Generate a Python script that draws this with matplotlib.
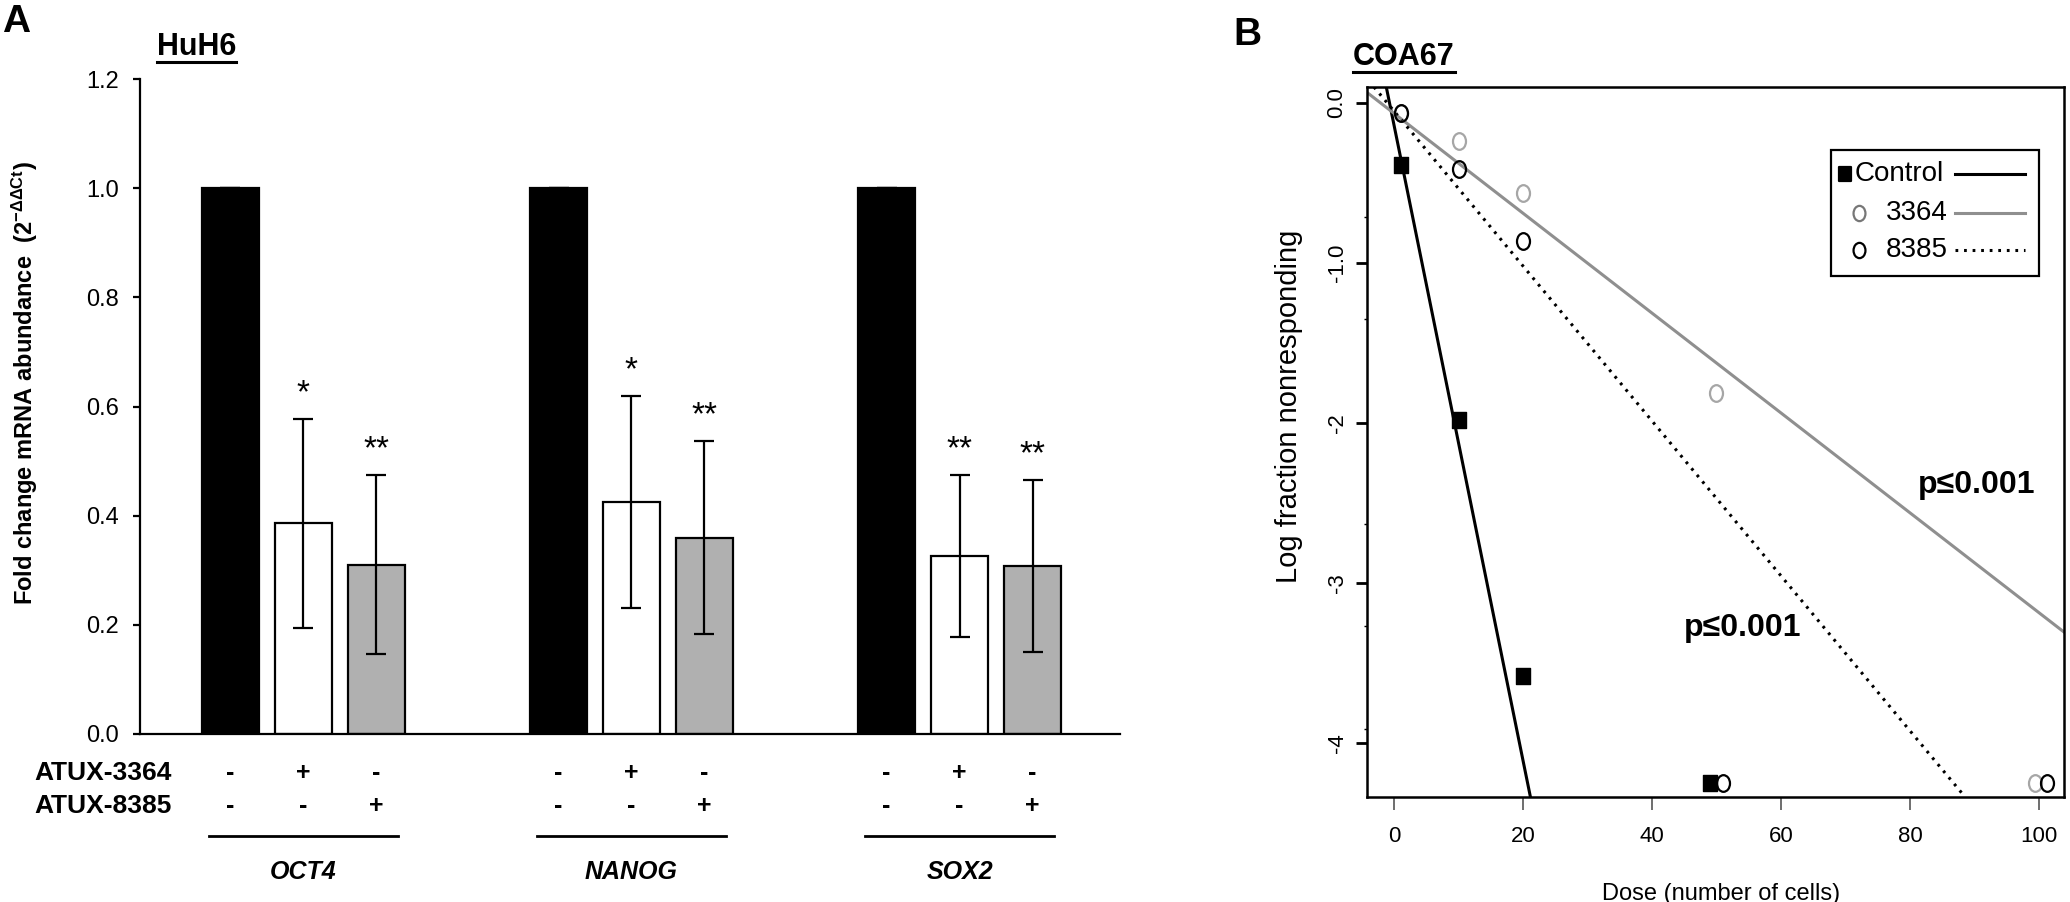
import matplotlib
matplotlib.use("Agg")
import matplotlib.pyplot as plt
import numpy as np
from matplotlib.path import Path
from matplotlib.lines import Line2D
from matplotlib.patches import Rectangle

plt.rcParams['font.family'] = ['Liberation Sans', 'DejaVu Sans']
plt.rcParams['mathtext.fontset'] = 'custom'
plt.rcParams['mathtext.rm'] = 'Liberation Sans'
plt.rcParams['mathtext.it'] = 'Liberation Sans:italic'
plt.rcParams['mathtext.bf'] = 'Liberation Sans:bold'

# ---- panel A: qPCR fold change (HuH6) ----
genes = ["OCT4", "NANOG", "SOX2"]
fold_change = [[1.0, 0.386, 0.310],
               [1.0, 0.425, 0.360],
               [1.0, 0.326, 0.308]]
fold_sd = [[0.0, 0.192, 0.164],
           [0.0, 0.194, 0.177],
           [0.0, 0.148, 0.157]]
stars = [["", "*", "**"],
         ["", "*", "**"],
         ["", "**", "**"]]
atux_3364 = ["-", "+", "-"]
atux_8385 = ["-", "-", "+"]
bar_colors = ["black", "white", "#b0b0b0"]

# ---- panel B: limiting dilution (COA67) ----
ctrl_dose = [1, 10, 20, 49]
ctrl_logfrac = [-0.39, -1.98, -3.58, -4.25]
a3364_dose = [1, 10, 20, 50, 99.4]
a3364_logfrac = [-0.06, -0.24, -0.56, -1.81, -4.25]
a8385_dose = [1, 10, 20, 51, 101.2]
a8385_logfrac = [-0.06, -0.41, -0.86, -4.25, -4.25]
fit_names = ["Control", "3364", "8385"]
fit_intercept = [-0.14, -0.065, -0.051]
fit_slope = [-0.1985, -0.0312, -0.0484]
pvals = ["p≤0.001", "p≤0.001"]
pval_xy = [(90.4, -2.39), (54, -3.28)]

W, H = 2070, 902
fig = plt.figure(figsize=(W / 100, H / 100), dpi=100)

# ================= panel A =================
axA = fig.add_axes([140 / W, 1 - 734 / H, 980 / W, 655 / H])
group_x = [0, 4.5, 9]
bw = 0.78
for g, gx in enumerate(group_x):
    xs = [gx + i for i in range(3)]
    axA.bar(xs, fold_change[g], width=bw, color=bar_colors,
            edgecolor="black", linewidth=1.6, zorder=2)
    axA.errorbar(xs, fold_change[g], yerr=fold_sd[g], fmt="none",
                 ecolor="black", elinewidth=1.6, capsize=7, capthick=1.6, zorder=3)
    for i in range(3):
        if stars[g][i]:
            axA.annotate(stars[g][i], (xs[i], fold_change[g][i] + fold_sd[g][i]),
                         xytext=(0, 12), textcoords="offset points",
                         ha="center", va="baseline", fontsize=24)
        axA.text(xs[i], -0.0595, atux_3364[i], transform=axA.get_xaxis_transform(),
                 ha="center", va="center", fontsize=18, fontweight="bold")
        axA.text(xs[i], -0.11, atux_8385[i], transform=axA.get_xaxis_transform(),
                 ha="center", va="center", fontsize=18, fontweight="bold")
    axA.plot([gx + 1 - 1.3, gx + 1 + 1.3], [-0.156, -0.156], color="black", lw=2,
             transform=axA.get_xaxis_transform(), clip_on=False)
    axA.text(gx + 1, -0.21, genes[g], transform=axA.get_xaxis_transform(),
             ha="center", va="center", fontsize=18, fontweight="bold", style="italic")

axA.text(-0.8, -0.0595, "ATUX-3364", transform=axA.get_xaxis_transform(),
         ha="right", va="center", fontsize=19, fontweight="bold")
axA.text(-0.8, -0.11, "ATUX-8385", transform=axA.get_xaxis_transform(),
         ha="right", va="center", fontsize=19, fontweight="bold")

axA.set_xlim(-1.24, 12.2)
axA.set_ylim(0, 1.2)
axA.set_yticks(np.arange(0, 1.21, 0.2))
axA.set_yticklabels([f"{v:.1f}" for v in np.arange(0, 1.21, 0.2)])
axA.set_xticks([])
for s in ["top", "right"]:
    axA.spines[s].set_visible(False)
for s in ["left", "bottom"]:
    axA.spines[s].set_linewidth(1.6)
axA.tick_params(axis="y", direction="out", length=5, width=1.6, pad=10, labelsize=17)
axA.set_ylabel(r"Fold change mRNA abundance  (2$^{\mathregular{-ΔΔCt}}$)",
               fontsize=17, fontweight="bold")
axA.yaxis.set_label_coords(-0.102, 0.535)

# ================= panel B =================
axB = fig.add_axes([1367 / W, 1 - 797 / H, 697 / W, 710 / H])

circ = Path.unit_circle()
ellipse = Path(circ.vertices * np.array([0.78, 1.0]), circ.codes)
rect = Path([(-0.43, -0.5), (0.43, -0.5), (0.43, 0.5), (-0.43, 0.5), (-0.43, -0.5)],
            [Path.MOVETO, Path.LINETO, Path.LINETO, Path.LINETO, Path.CLOSEPOLY])

line_styles = [dict(color="black", lw=2.2, ls="-"),
               dict(color="#8f8f8f", lw=2.2, ls="-"),
               dict(color="black", lw=2.2, ls=(0, (0.9, 1.9)))]
for b, m, st in zip(fit_intercept, fit_slope, line_styles):
    axB.axline((0, b), slope=m, zorder=2, **st)

axB.plot(a3364_dose, a3364_logfrac, ls="none", marker=ellipse, markersize=12,
         mfc="none", mec="#a6a6a6", mew=1.6, zorder=3)
axB.plot(a8385_dose, a8385_logfrac, ls="none", marker=ellipse, markersize=12,
         mfc="none", mec="black", mew=1.6, zorder=4)
axB.plot(ctrl_dose, ctrl_logfrac, ls="none", marker=rect, markersize=11,
         mfc="black", mec="black", zorder=5)

for txt, (px, py) in zip(pvals, pval_xy):
    axB.text(px, py, txt, ha="center", va="center", fontsize=23, fontweight="bold")

axB.set_xlim(-4.2, 103.9)
axB.set_ylim(-4.3375, 0.1)
axB.set_xticks(np.arange(0, 101, 20))
axB.set_yticks([0, -1, -2, -3, -4])
axB.set_yticklabels(["0.0", "-1.0", "-2", "-3", "-4"], rotation=90, va="center")
axB.set_yticks([-0.71, -1.35, -2.63, -3.27, -3.91], minor=True)
axB.tick_params(axis="x", direction="out", length=9, width=1.2, color="#555555",
                pad=12, labelsize=16)
axB.tick_params(axis="y", which="major", direction="out", length=8, width=2,
                pad=6, labelsize=16)
axB.tick_params(axis="y", which="minor", direction="out", length=2, width=1)
for s in axB.spines.values():
    s.set_linewidth(1.8)
axB.set_xlabel("Dose (number of cells)", fontsize=17)
axB.xaxis.set_label_coords(0.508, -0.121)
axB.set_ylabel("Log fraction nonresponding", fontsize=21)
axB.yaxis.set_label_coords(-0.092, 0.55)

# legend (marker, name, line sample)
lx0, lx1, ly0, ly1 = 0.666, 0.964, 0.734, 0.911
axB.add_patch(Rectangle((lx0, ly0), lx1 - lx0, ly1 - ly0, transform=axB.transAxes,
                        fill=False, edgecolor="black", lw=1.6, zorder=6))
leg_y = [0.877, 0.823, 0.77]
leg_marker = [rect, ellipse, ellipse]
leg_mfc = ["black", "none", "none"]
leg_mec = ["black", "#777777", "black"]
leg_text_x = [0.700, 0.744, 0.744]
leg_mark_x = [0.686, 0.706, 0.706]
for i in range(3):
    axB.plot([leg_mark_x[i]], [leg_y[i]], transform=axB.transAxes, ls="none",
             marker=leg_marker[i], markersize=10 if i == 0 else 11,
             mfc=leg_mfc[i], mec=leg_mec[i], mew=1.6, zorder=7)
    axB.text(leg_text_x[i], leg_y[i], fit_names[i], transform=axB.transAxes,
             ha="left", va="center", fontsize=20, zorder=7)
    axB.add_line(Line2D([0.843, 0.944], [leg_y[i], leg_y[i]], transform=axB.transAxes,
                        zorder=7, **line_styles[i]))

# ================= titles and panel letters =================
fig.text(2 / W, 1 - 32 / H, "A", fontsize=28, fontweight="bold", va="baseline")
fig.text(1233 / W, 1 - 45 / H, "B", fontsize=28, fontweight="bold", va="baseline")
tA = fig.text(157 / W, 1 - 55 / H, "HuH6", fontsize=22, fontweight="bold", va="baseline")
tB = fig.text(1353 / W, 1 - 65 / H, "COA67", fontsize=22, fontweight="bold", va="baseline")

fig.canvas.draw()
r = fig.canvas.get_renderer()
for t, base in [(tA, 55), (tB, 65)]:
    bb = t.get_window_extent(r).transformed(fig.transFigure.inverted())
    yl = 1 - (base + 7) / H
    fig.add_artist(Line2D([bb.x0, bb.x1], [yl, yl], transform=fig.transFigure,
                          color="black", lw=2.2))

fig.savefig("out.png", dpi=100, facecolor="white")
